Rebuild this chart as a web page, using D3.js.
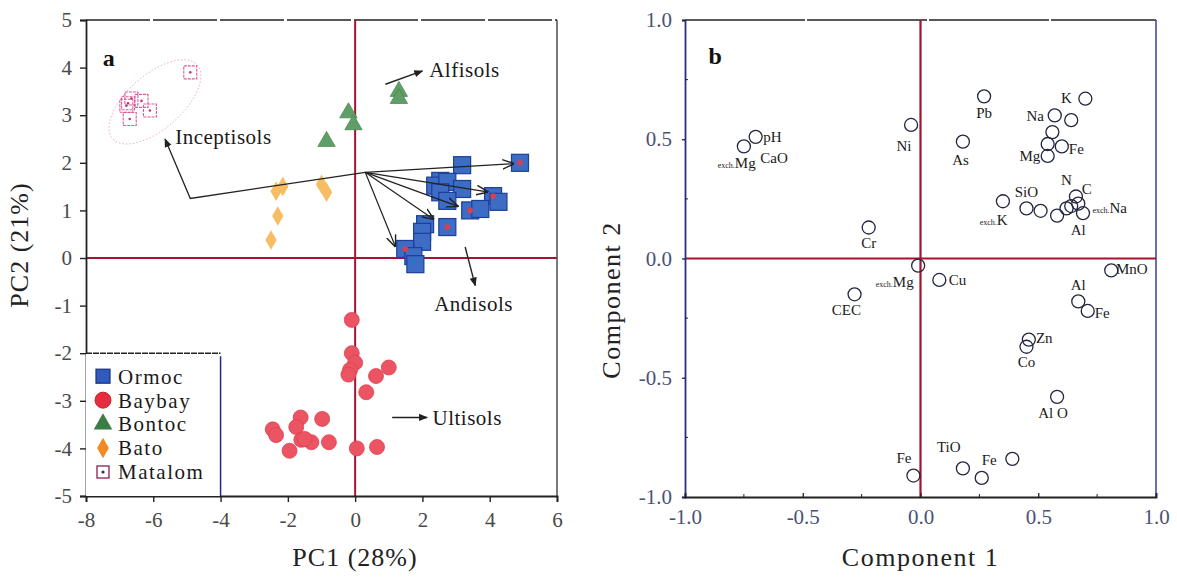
<!DOCTYPE html>
<html>
<head>
<meta charset="utf-8">
<script src="https://cdn.jsdelivr.net/npm/d3@7"></script>
<style>
  body { margin: 0; background: #fff; }
</style>
</head>
<body>
<script>
// ---- panel a : PCA scores ----
var ormoc = [[3.18,1.95],[4.9,2.0,1],[2.53,1.62],[2.38,1.52],[2.74,1.6],[3.18,1.45],[2.53,1.38],[2.74,1.2],
             [4.1,1.3,1],[4.26,1.18],[3.42,1.0,1],[3.72,1.03],[2.08,0.71],[2.74,0.65,1],[1.99,0.55],
             [1.99,0.34],[1.49,0.19,1],[1.73,0.04],[1.79,-0.13]];
var baybay = [[-0.1,-1.3],[-0.1,-2.0],[0,-2.2],[-0.15,-2.35],[-0.2,-2.45],[1.0,-2.3],[0.62,-2.48],[0.33,-2.82],
              [0.05,-4.0],[0.65,-3.97],[-0.98,-3.38],[-1.62,-3.35],[-1.75,-3.55],[-1.6,-3.82],[-1.3,-3.87],
              [-0.78,-3.87],[-1.95,-4.05],[-2.45,-3.6],[-2.35,-3.72],[-1.5,-3.8]];
var bontoc = [[1.3,3.5],[1.3,3.35],[-0.2,3.05],[-0.05,2.8],[-0.85,2.45]];
var bato = [[-2.35,1.4],[-2.15,1.5],[-1.0,1.55],[-0.85,1.38],[-2.3,0.88],[-2.5,0.38]];
var matalom = [[-4.9,3.9],[-6.75,3.25],[-6.65,3.35],[-6.35,3.3],[-6.1,3.1],[-6.7,2.92],[-6.8,3.2]];

var groupNames = ["Ormoc", "Baybay", "Bontoc", "Bato", "Matalom"];
var xTicksA = [-8,-6,-4,-2,0,2,4,6];
var yTicksA = [-5,-4,-3,-2,-1,0,1,2,3,4,5];

// soil-order arrows
var vecOrigin = [0.3, 1.8];
var clusterVecs = [[4.7,1.98],[3.93,1.39],[3.04,1.09],[2.32,0.82],[1.19,0.25]];
var inceptPath = [[0.3,1.8],[-4.9,1.25],[-5.65,2.5]];
var orderArrows = [
  {name: "Alfisols", from: [0.9,3.65], to: [2.0,3.93], label: [2.2,3.95]},
  {name: "Andisols", from: [3.27,0.23], to: [3.57,-0.58], label: [2.35,-0.95]},
  {name: "Ultisols", from: [1.1,-3.35], to: [2.14,-3.35], label: [2.3,-3.35]}
];
// matalom ellipse: centre, half axes (data units)
var ellipse = {c: [-5.95,3.28], a: [1.25,0.78], b: [0.55,-0.42]};

// ---- panel b : loadings ----
var loadings = [[-0.70,0.51],[-0.75,0.47],[-0.22,0.13],[-0.04,0.56],[0.18,0.49],[0.27,0.68],[0.70,0.67],
  [0.57,0.60],[0.64,0.58],[0.56,0.53],[0.54,0.48],[0.60,0.47],[0.54,0.43],[0.66,0.26],[0.64,0.22],
  [0.67,0.23],[0.62,0.21],[0.69,0.19],[0.58,0.18],[0.45,0.21],[0.35,0.24],[0.51,0.20],
  [-0.01,-0.03],[0.08,-0.09],[0.81,-0.05],[-0.28,-0.15],[0.67,-0.18],[0.71,-0.22],[0.46,-0.34],
  [0.45,-0.37],[0.58,-0.58],[-0.03,-0.91],[0.18,-0.88],[0.26,-0.92],[0.39,-0.84]];
// labels: [text, x, y, anchor, exch prefix]
var loadLabels = [
  ["pH",-0.668,0.49,"start"],["Mg",-0.70,0.38,"end",1],["CaO",-0.68,0.40,"start"],["Cr",-0.22,0.046,"middle"],
  ["Ni",-0.07,0.45,"middle"],["As",0.17,0.39,"middle"],["Pb",0.27,0.59,"middle"],["K",0.62,0.65,"middle"],
  ["Na",0.45,0.575,"start"],["Fe",0.63,0.44,"start"],["Mg",0.42,0.41,"start"],["N",0.62,0.31,"middle"],
  ["C",0.685,0.27,"start"],["Na",0.73,0.19,"start",1],["Al",0.67,0.10,"middle"],["SiO",0.40,0.256,"start"],
  ["K",0.37,0.14,"end",1],["Mg",-0.19,-0.118,"start",1],["Cu",0.12,-0.11,"start"],["MnO",0.83,-0.067,"start"],
  ["CEC",-0.315,-0.235,"middle"],["Al",0.67,-0.13,"middle"],["Fe",0.74,-0.248,"start"],["Zn",0.49,-0.353,"start"],
  ["Co",0.45,-0.454,"middle"],["Al O",0.50,-0.668,"start"],["Fe",-0.07,-0.857,"middle"],["TiO",0.12,-0.81,"middle"],
  ["Fe",0.26,-0.866,"start"]];
var xTicksB = [-1.0,-0.5,0.0,0.5,1.0];
var yTicksB = [-1.0,-0.5,0.0,0.5,1.0];
var minorB = [-0.75,-0.25,0.25,0.75];

var W = 1177, H = 582;
var red = "#a3152e";
var serif = "'Liberation Serif', 'Times New Roman', 'DejaVu Serif', serif";
var svg = d3.select("body").append("svg").attr("width", W).attr("height", H)
  .attr("font-family", serif);

function fmt(f) {
  var g = d3.format(f);
  return function(d) { return g(d).replace("\u2212", "-"); };
}

var defs = svg.append("defs");
defs.append("marker").attr("id", "headFill").attr("viewBox", "0 0 10 10")
  .attr("refX", 9).attr("refY", 5).attr("markerWidth", 9).attr("markerHeight", 9)
  .attr("orient", "auto").attr("markerUnits", "userSpaceOnUse")
  .append("path").attr("d", "M0,1 L10,5 L0,9 Z").attr("fill", "#222");
defs.append("marker").attr("id", "headOpen").attr("viewBox", "0 0 10 10")
  .attr("refX", 9).attr("refY", 5).attr("markerWidth", 12).attr("markerHeight", 12)
  .attr("orient", "auto").attr("markerUnits", "userSpaceOnUse")
  .append("path").attr("d", "M0,1 L10,5 L0,9").attr("fill", "none").attr("stroke", "#222").attr("stroke-width", 1.2);

// ================= panel a =================
var xA = d3.scaleLinear().domain([-8, 6]).range([86, 557]);
var yA = d3.scaleLinear().domain([-5, 5]).range([496, 20]);
var ga = svg.append("g");

ga.append("line").attr("x1", xA(-8)).attr("x2", xA(6)).attr("y1", yA(5)).attr("y2", yA(5))
  .attr("stroke", "#222").attr("stroke-width", 1.6).attr("stroke-dasharray", "64,3");
ga.append("line").attr("x1", xA(6)).attr("x2", xA(6)).attr("y1", yA(5)).attr("y2", yA(-5))
  .attr("stroke", "#333").attr("stroke-width", 1.3);
ga.append("line").attr("x1", xA(-8)).attr("x2", xA(6)).attr("y1", yA(0)).attr("y2", yA(0))
  .attr("stroke", red).attr("stroke-width", 2);
ga.append("line").attr("x1", xA(0)).attr("x2", xA(0)).attr("y1", yA(5)).attr("y2", yA(-5))
  .attr("stroke", red).attr("stroke-width", 2);

var axA = ga.append("g").attr("transform", "translate(" + xA(-8) + ",0)")
  .call(d3.axisLeft(yA).tickValues(yTicksA).tickSize(6).tickPadding(8).tickFormat(fmt("d")));
var axB = ga.append("g").attr("transform", "translate(0," + yA(-5) + ")")
  .call(d3.axisBottom(xA).tickValues(xTicksA).tickSize(6).tickPadding(10).tickFormat(fmt("d")));
[axA, axB].forEach(function(a) {
  a.attr("font-family", serif).attr("font-size", 21);
  a.select(".domain").attr("stroke", "#222").attr("stroke-width", 1.8);
  a.selectAll(".tick line").attr("stroke", "#222").attr("stroke-width", 1.4);
  a.selectAll("text").attr("fill", "#4a4a4a");
});

// ellipse around matalom
var ellPts = d3.range(0, 361, 6).map(function(t) {
  var r = t * Math.PI / 180;
  return [ellipse.c[0] + ellipse.a[0] * Math.cos(r) + ellipse.b[0] * Math.sin(r),
          ellipse.c[1] + ellipse.a[1] * Math.cos(r) + ellipse.b[1] * Math.sin(r)];
});
ga.append("path").datum(ellPts)
  .attr("d", d3.line().x(function(d) { return xA(d[0]); }).y(function(d) { return yA(d[1]); }))
  .attr("fill", "none").attr("stroke", "#e8a0c0").attr("stroke-width", 0.9).attr("stroke-dasharray", "1.5,2");

// points
ga.selectAll(".bato").data(bato).enter().append("path")
  .attr("d", d3.symbol().type(d3.symbolDiamond).size(110))
  .attr("transform", function(d) { return "translate(" + xA(d[0]) + "," + yA(d[1]) + ")"; })
  .attr("fill", "#f7bd63");
ga.selectAll(".bontoc").data(bontoc).enter().append("path")
  .attr("d", d3.symbol().type(d3.symbolTriangle).size(130))
  .attr("transform", function(d) { return "translate(" + xA(d[0]) + "," + yA(d[1]) + ")"; })
  .attr("fill", "#5f9e66").attr("stroke", "#4b8a52").attr("stroke-width", 0.8);
ga.selectAll(".baybay").data(baybay).enter().append("circle")
  .attr("cx", function(d) { return xA(d[0]); }).attr("cy", function(d) { return yA(d[1]); })
  .attr("r", 7.5).attr("fill", "#eb5462").attr("stroke", "#e0404f").attr("stroke-width", 0.8);
ga.selectAll(".ormoc").data(ormoc).enter().append("rect")
  .attr("x", function(d) { return xA(d[0]) - 8.5; }).attr("y", function(d) { return yA(d[1]) - 8.5; })
  .attr("width", 17).attr("height", 17)
  .attr("fill", "#3c6cc4").attr("stroke", "#1d3f99").attr("stroke-width", 1.2);
ga.selectAll(".ormocDot").data(ormoc.filter(function(d) { return d[2]; })).enter().append("circle")
  .attr("cx", function(d) { return xA(d[0]); }).attr("cy", function(d) { return yA(d[1]); })
  .attr("r", 2.8).attr("fill", "#d8404f");
var mg = ga.selectAll(".matalom").data(matalom).enter().append("g")
  .attr("transform", function(d) { return "translate(" + xA(d[0]) + "," + yA(d[1]) + ")"; });
mg.append("rect").attr("x", -6.5).attr("y", -6.5).attr("width", 13).attr("height", 13)
  .attr("fill", "none").attr("stroke", "#e0579a").attr("stroke-width", 1.1).attr("stroke-dasharray", "3,1");
mg.append("circle").attr("r", 1.3).attr("fill", "#b04070");

// arrows
ga.selectAll(".vec").data(clusterVecs).enter().append("line")
  .attr("x1", xA(vecOrigin[0])).attr("y1", yA(vecOrigin[1]))
  .attr("x2", function(d) { return xA(d[0]); }).attr("y2", function(d) { return yA(d[1]); })
  .attr("stroke", "#222").attr("stroke-width", 1.2).attr("marker-end", "url(#headOpen)");
ga.append("path").datum(inceptPath)
  .attr("d", d3.line().x(function(d) { return xA(d[0]); }).y(function(d) { return yA(d[1]); }))
  .attr("fill", "none").attr("stroke", "#222").attr("stroke-width", 1.3).attr("marker-end", "url(#headFill)");
ga.selectAll(".ord").data(orderArrows).enter().append("line")
  .attr("x1", function(d) { return xA(d.from[0]); }).attr("y1", function(d) { return yA(d.from[1]); })
  .attr("x2", function(d) { return xA(d.to[0]); }).attr("y2", function(d) { return yA(d.to[1]); })
  .attr("stroke", "#222").attr("stroke-width", 1.4).attr("marker-end", "url(#headFill)");
ga.selectAll(".ordLab").data(orderArrows).enter().append("text")
  .attr("x", function(d) { return xA(d.label[0]); }).attr("y", function(d) { return yA(d.label[1]); })
  .attr("dy", "0.35em").attr("font-size", 21).attr("fill", "#1a1a1a").attr("letter-spacing", 0.5)
  .text(function(d) { return d.name; });
ga.append("text").attr("x", xA(-5.35)).attr("y", yA(2.55)).attr("dy", "0.35em")
  .attr("font-size", 21).attr("fill", "#1a1a1a").attr("letter-spacing", 0.5).text("Inceptisols");

ga.append("text").attr("x", xA(-7.5)).attr("y", yA(4.2)).attr("dy", "0.35em")
  .attr("font-size", 24).attr("font-weight", "bold").attr("fill", "#111").text("a");

// legend
var lg = ga.append("g");
lg.append("rect").attr("x", xA(-8)).attr("y", yA(-2)).attr("width", xA(-4) - xA(-8)).attr("height", yA(-5) - yA(-2))
  .attr("fill", "#fff");
lg.append("line").attr("x1", xA(-8)).attr("x2", xA(-4)).attr("y1", yA(-2)).attr("y2", yA(-2))
  .attr("stroke", "#222").attr("stroke-width", 1.6).attr("stroke-dasharray", "6,1");
lg.append("line").attr("x1", xA(-4)).attr("x2", xA(-4)).attr("y1", yA(-2) + 3).attr("y2", yA(-5))
  .attr("stroke", "#1d2a80").attr("stroke-width", 1.5);
var legY = d3.scalePoint().domain(groupNames).range([yA(-2) + 23, yA(-5) - 24]);
var lx = xA(-8) + 17;
groupNames.forEach(function(n) {
  var y = legY(n);
  var item = lg.append("g").attr("transform", "translate(" + lx + "," + y + ")");
  if (n === "Ormoc") item.append("rect").attr("x", -7).attr("y", -7).attr("width", 14).attr("height", 14)
    .attr("fill", "#2e5bbd").attr("stroke", "#1a2f80").attr("stroke-width", 1.2);
  if (n === "Baybay") item.append("circle").attr("r", 8).attr("fill", "#e52d3d").attr("stroke", "#c82030");
  if (n === "Bontoc") item.append("path").attr("d", d3.symbol().type(d3.symbolTriangle).size(150)).attr("fill", "#3c7c45");
  if (n === "Bato") item.append("path").attr("d", d3.symbol().type(d3.symbolDiamond).size(120)).attr("fill", "#f08a22");
  if (n === "Matalom") {
    item.append("rect").attr("x", -6).attr("y", -6).attr("width", 12).attr("height", 12)
      .attr("fill", "none").attr("stroke", "#8a1f4a").attr("stroke-width", 1.3);
    item.append("circle").attr("r", 1.6).attr("fill", "#333");
  }
  lg.append("text").attr("x", lx + 15).attr("y", y).attr("dy", "0.35em")
    .attr("font-size", 21).attr("letter-spacing", 1.5).attr("fill", "#1a1a1a").text(n);
});

// axis titles
ga.append("text").attr("x", 355).attr("y", 566).attr("text-anchor", "middle")
  .attr("font-size", 26).attr("fill", "#222").attr("letter-spacing", 1).text("PC1 (28%)");
ga.append("text").attr("transform", "translate(28,245) rotate(-90)").attr("text-anchor", "middle")
  .attr("font-size", 26).attr("fill", "#222").attr("letter-spacing", 1).text("PC2 (21%)");

// ================= panel b =================
var xB = d3.scaleLinear().domain([-1, 1]).range([685, 1156]);
var yB = d3.scaleLinear().domain([-1, 1]).range([497, 20]);
var gb = svg.append("g");

gb.append("line").attr("x1", xB(-1)).attr("x2", xB(1)).attr("y1", yB(1)).attr("y2", yB(1))
  .attr("stroke", "#222").attr("stroke-width", 1.6).attr("stroke-dasharray", "120,2");
gb.append("line").attr("x1", xB(1)).attr("x2", xB(1)).attr("y1", yB(1)).attr("y2", yB(-1))
  .attr("stroke", "#3a3f9a").attr("stroke-width", 1.5);
gb.append("line").attr("x1", xB(-1)).attr("x2", xB(1)).attr("y1", yB(0)).attr("y2", yB(0))
  .attr("stroke", red).attr("stroke-width", 2.2);
gb.append("line").attr("x1", xB(0)).attr("x2", xB(0)).attr("y1", yB(1)).attr("y2", yB(-1))
  .attr("stroke", red).attr("stroke-width", 2.2);

var bxL = gb.append("g").attr("transform", "translate(" + xB(-1) + ",0)")
  .call(d3.axisLeft(yB).tickValues(yTicksB).tickSize(3).tickPadding(10).tickFormat(fmt(".1f")));
var bxB = gb.append("g").attr("transform", "translate(0," + yB(-1) + ")")
  .call(d3.axisBottom(xB).tickValues(xTicksB).tickSize(-4).tickPadding(12).tickFormat(fmt(".1f")));
bxL.select(".domain").attr("stroke", "#25307f").attr("stroke-width", 1.8);
bxB.select(".domain").attr("stroke", "#222").attr("stroke-width", 1.8);
[bxL, bxB].forEach(function(a) {
  a.attr("font-family", serif).attr("font-size", 21);
  a.selectAll(".tick line").attr("stroke", "#222").attr("stroke-width", 1.3);
  a.selectAll("text").attr("fill", "#4b5274");
});
gb.selectAll(".minY").data(minorB).enter().append("line")
  .attr("x1", xB(-1)).attr("x2", xB(-1) + 3).attr("y1", function(d) { return yB(d); }).attr("y2", function(d) { return yB(d); })
  .attr("stroke", "#222");
gb.selectAll(".minX").data(minorB).enter().append("line")
  .attr("y1", yB(-1)).attr("y2", yB(-1) - 3).attr("x1", function(d) { return xB(d); }).attr("x2", function(d) { return xB(d); })
  .attr("stroke", "#222");

gb.selectAll(".load").data(loadings).enter().append("circle")
  .attr("cx", function(d) { return xB(d[0]); }).attr("cy", function(d) { return yB(d[1]); })
  .attr("r", 6.5).attr("fill", "none").attr("stroke", "#23263f").attr("stroke-width", 1.3);

var lt = gb.selectAll(".lab").data(loadLabels).enter().append("text")
  .attr("x", function(d) { return xB(d[1]); }).attr("y", function(d) { return yB(d[2]); })
  .attr("text-anchor", function(d) { return d[3]; })
  .attr("font-size", 15).attr("fill", "#1a1a1a");
lt.filter(function(d) { return d[4]; }).append("tspan").attr("font-size", 8).text("exch.");
lt.append("tspan").text(function(d) { return d[0]; });

gb.append("text").attr("x", xB(-0.9)).attr("y", yB(0.85)).attr("dy", "0.35em")
  .attr("font-size", 24).attr("font-weight", "bold").attr("fill", "#111").text("b");

gb.append("text").attr("x", xB(0)).attr("y", 566).attr("text-anchor", "middle")
  .attr("font-size", 26).attr("fill", "#222").attr("letter-spacing", 1.5).text("Component 1");
gb.append("text").attr("transform", "translate(620,300) rotate(-90)").attr("text-anchor", "middle")
  .attr("font-size", 26).attr("fill", "#222").attr("letter-spacing", 1.5).text("Component 2");
</script>
</body>
</html>
